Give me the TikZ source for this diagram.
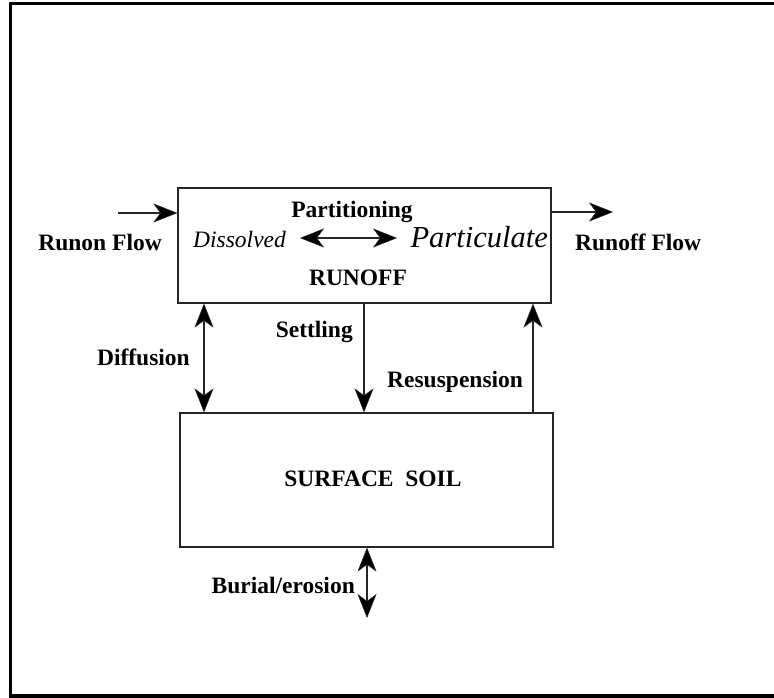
\documentclass[tikz,border=0pt]{standalone}
\usepackage{fontspec}
\setmainfont{Liberation Serif}
\usetikzlibrary{arrows.meta}
\begin{document}
\begin{tikzpicture}[x=1pt,y=-1pt,
  every node/.style={inner sep=0pt, font=\fontsize{23.5}{28}\selectfont\bfseries},
  compartment/.style={draw=black!85, line width=1.3pt, rectangle, inner sep=0pt},
  tip/.tip={Stealth[length=24pt,width=19pt,inset=7pt,fill=black,line width=0.5pt]},
  flow/.style={draw=black!85, line width=1.1pt, -tip},
  twoway/.style={draw=black!85, line width=1.1pt, tip-tip},
  lbl/.style={text=black}]
\useasboundingbox (0,0) rectangle (774,698);
% outer frame
\draw[line width=3.2pt] (780,3.8) -- (10.7,3.8) -- (10.7,696) -- (780,696);

% compartments
\node[compartment, minimum width=373pt, minimum height=115pt] (runoff) at (364.5,245.5) {};
\node[compartment, minimum width=373pt, minimum height=134pt] (soil) at (366.5,480) {};

% texts
\node[lbl, anchor=base] (runofftxt) at (358,285) {RUNOFF};
\node[lbl, anchor=base] (soiltxt) at (373,486) {SURFACE\ \ SOIL};
\node[lbl, anchor=base] (part) at (352,218) {Partitioning};
\node[lbl, anchor=base west, font=\fontsize{23.5}{28}\selectfont\itshape] (dis) at (193,247) {Dissolved};
\node[lbl, anchor=base east, font=\fontsize{30.5}{36}\selectfont\itshape] (ptc) at (548,247) {Particulate};
\node[lbl, anchor=base east] (runon) at (162,250) {Runon Flow};
\node[lbl, anchor=base west] (runofftx) at (575,250) {Runoff Flow};
\node[lbl, anchor=base east] (diff) at (190,365) {Diffusion};
\node[lbl, anchor=base east] (settle) at (353,337) {Settling};
\node[lbl, anchor=base west] (resus) at (387,387) {Resuspension};
\node[lbl, anchor=base east] (burial) at (355,593) {Burial/erosion};

% connector ends and columns
\coordinate (inflow) at (118,213);
\coordinate (outflow) at (613,212);
\coordinate (colD) at (204,0);
\coordinate (colS) at (364,0);
\coordinate (colR) at (533,0);
\coordinate (deep) at (367,618);

% flows
\draw[flow] (inflow) -- (inflow -| runoff.west);
\draw[flow] (outflow -| runoff.east) -- (outflow);
\draw[twoway] (300,238) -- (397,238);
\draw[twoway] (runoff.south -| colD) -- (soil.north -| colD);
\draw[flow] (runoff.south -| colS) -- (soil.north -| colS);
\draw[flow] (soil.north -| colR) -- (runoff.south -| colR);
\draw[twoway] (soil.south -| deep) -- (deep);
\end{tikzpicture}
\end{document}
